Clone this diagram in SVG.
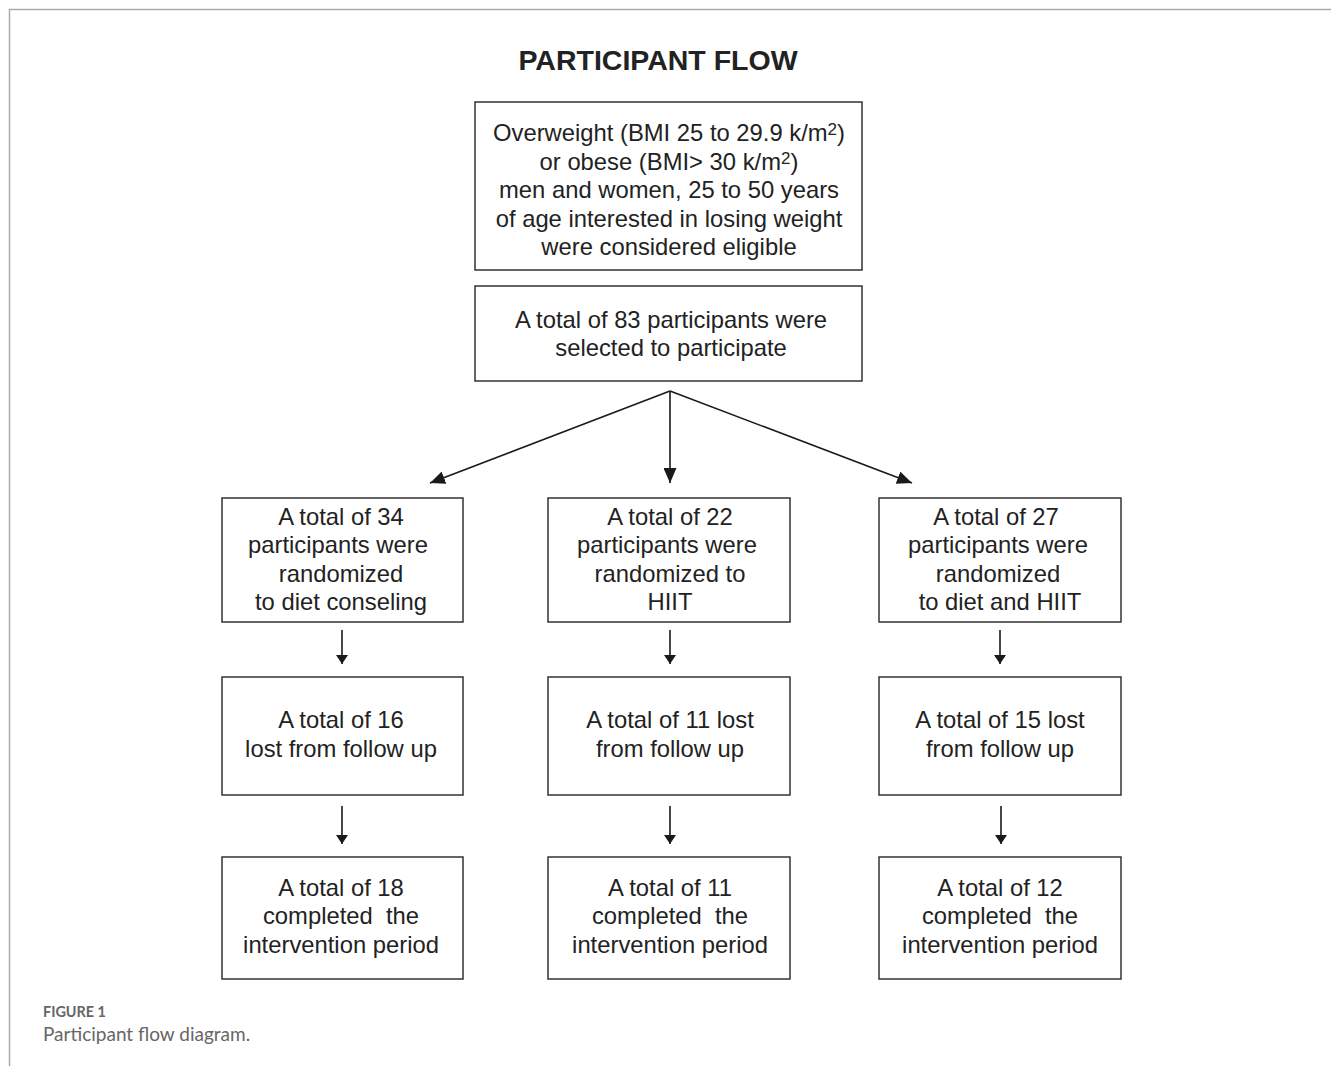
<svg xmlns="http://www.w3.org/2000/svg" width="1331" height="1066" viewBox="0 0 1331 1066">
<style>
.box{fill:#fff;stroke:#333;stroke-width:1.5}
.t{font-family:"Liberation Sans",Arial,sans-serif;font-size:23.8px;fill:#222;text-anchor:middle;white-space:pre}
.c{stroke:#1a1a1a;stroke-width:1.6;fill:none}
.cap{font-family:Lato,"Open Sans",sans-serif;fill:#666}
</style>
<defs>
<marker id="big" viewBox="0 0 15 13" refX="15" refY="6.5" markerWidth="15" markerHeight="13" markerUnits="userSpaceOnUse" orient="auto"><path d="M0,0 L15,6.5 L0,13 Z" fill="#1a1a1a"/></marker>
<marker id="sm" viewBox="0 0 9 12" refX="9" refY="6" markerWidth="9" markerHeight="12" markerUnits="userSpaceOnUse" orient="auto"><path d="M0,0 L9,6 L0,12 Z" fill="#1a1a1a"/></marker>
</defs>
<rect width="1331" height="1066" fill="#fff"/>
<path d="M9.5,1066 V9.5 H1331" fill="none" stroke="#aaa" stroke-width="1.5"/>
<text x="658" y="70" font-family="Liberation Sans,Arial,sans-serif" font-size="28.5" font-weight="bold" fill="#222" text-anchor="middle">PARTICIPANT FLOW</text>

<g id="n1"><rect class="box" x="475" y="102" width="387" height="168"/>
<text class="t" x="669" y="141">Overweight (BMI 25 to 29.9 k/m<tspan font-size="17" dy="-6">2</tspan><tspan dy="6">)</tspan></text>
<text class="t" x="669" y="170">or obese (BMI&gt; 30 k/m<tspan font-size="17" dy="-6">2</tspan><tspan dy="6">)</tspan></text>
<text class="t" x="669" y="198">men and women, 25 to 50 years</text>
<text class="t" x="669" y="227">of age interested in losing weight</text>
<text class="t" x="669" y="255">were considered eligible</text></g>

<g id="n2"><rect class="box" x="475" y="286" width="387" height="95"/>
<text class="t" x="671" y="328">A total of 83 participants were</text>
<text class="t" x="671" y="356">selected to participate</text></g>

<g id="a1"><rect class="box" x="222" y="498" width="241" height="124"/>
<text class="t" x="341" y="525">A total of 34</text>
<text class="t" x="338" y="553">participants were</text>
<text class="t" x="341" y="582">randomized</text>
<text class="t" x="341" y="610">to diet conseling</text></g>

<g id="b1"><rect class="box" x="548" y="498" width="242" height="124"/>
<text class="t" x="670" y="525">A total of 22</text>
<text class="t" x="667" y="553">participants were</text>
<text class="t" x="670" y="582">randomized to</text>
<text class="t" x="670" y="610">HIIT</text></g>

<g id="c1"><rect class="box" x="879" y="498" width="242" height="124"/>
<text class="t" x="996" y="525">A total of 27</text>
<text class="t" x="998" y="553">participants were</text>
<text class="t" x="998" y="582">randomized</text>
<text class="t" x="1000" y="610">to diet and HIIT</text></g>

<g id="a2"><rect class="box" x="222" y="677" width="241" height="118"/>
<text class="t" x="341" y="728">A total of 16</text>
<text class="t" x="341" y="757">lost from follow up</text></g>

<g id="b2"><rect class="box" x="548" y="677" width="242" height="118"/>
<text class="t" x="670" y="728">A total of 11 lost</text>
<text class="t" x="670" y="757">from follow up</text></g>

<g id="c2"><rect class="box" x="879" y="677" width="242" height="118"/>
<text class="t" x="1000" y="728">A total of 15 lost</text>
<text class="t" x="1000" y="757">from follow up</text></g>

<g id="a3"><rect class="box" x="222" y="857" width="241" height="122"/>
<text class="t" x="341" y="896">A total of 18</text>
<text class="t" x="341" y="924">completed  the</text>
<text class="t" x="341" y="953">intervention period</text></g>

<g id="b3"><rect class="box" x="548" y="857" width="242" height="122"/>
<text class="t" x="670" y="896">A total of 11</text>
<text class="t" x="670" y="924">completed  the</text>
<text class="t" x="670" y="953">intervention period</text></g>

<g id="c3"><rect class="box" x="879" y="857" width="242" height="122"/>
<text class="t" x="1000" y="896">A total of 12</text>
<text class="t" x="1000" y="924">completed  the</text>
<text class="t" x="1000" y="953">intervention period</text></g>

<g id="connectors">
<line class="c" x1="670" y1="391" x2="430" y2="483" marker-end="url(#big)"/>
<line class="c" x1="670" y1="391" x2="670" y2="483" marker-end="url(#big)"/>
<line class="c" x1="670" y1="391" x2="912" y2="483" marker-end="url(#big)"/>
<line class="c" x1="342" y1="630" x2="342" y2="664" marker-end="url(#sm)"/>
<line class="c" x1="670" y1="630" x2="670" y2="664" marker-end="url(#sm)"/>
<line class="c" x1="1000" y1="630" x2="1000" y2="664" marker-end="url(#sm)"/>
<line class="c" x1="342" y1="806" x2="342" y2="844" marker-end="url(#sm)"/>
<line class="c" x1="670" y1="806" x2="670" y2="844" marker-end="url(#sm)"/>
<line class="c" x1="1001" y1="806" x2="1001" y2="844" marker-end="url(#sm)"/>
</g>

<text class="cap" x="43" y="1017" font-size="14.4" font-weight="bold">FIGURE 1</text>
<text class="cap" x="43" y="1041" font-size="19" fill="#777">Participant flow diagram.</text>
</svg>
